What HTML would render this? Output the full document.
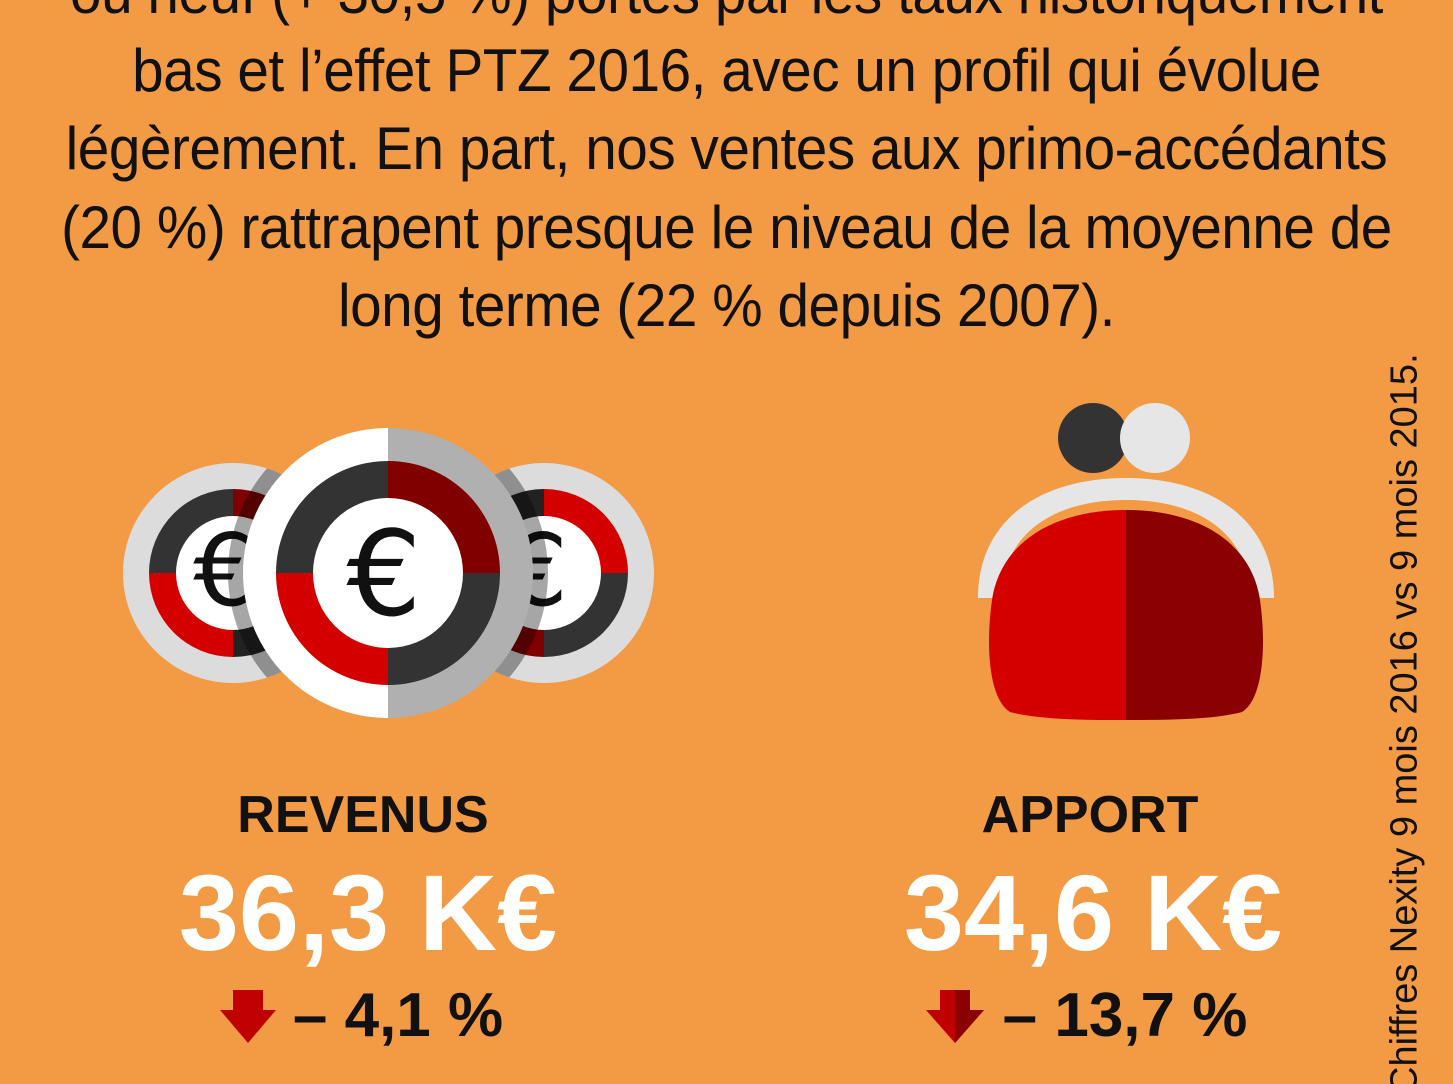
<!DOCTYPE html>
<html><head><meta charset="utf-8"><style>
html,body{margin:0;padding:0;overflow:hidden;width:1453px;height:1084px}
body{background:#f39a44;position:relative;font-family:"Liberation Sans",sans-serif}
.t{position:absolute;left:0;width:1453px;text-align:center;font-size:60px;color:#111;white-space:nowrap;letter-spacing:-0.5px;transform:scaleX(0.945);transform-origin:726px 0}
.lab{position:absolute;width:600px;text-align:center;font-family:"Liberation Sans",sans-serif;font-weight:bold;white-space:nowrap}
.vtw{position:absolute;left:0;top:0;width:1453px;height:1084px;overflow:hidden}
.vt{position:absolute;top:1094px;transform-origin:0 0;transform:rotate(-90deg) translateY(-50%);font-size:38px;color:#111;white-space:nowrap}
</style></head><body>
<div class="t" style="top:-42px">ou neuf (+ 30,5 %) portés par les taux historiquement</div>
<div class="t" style="top:36px">bas et l’effet PTZ 2016, avec un profil qui évolue</div>
<div class="t" style="top:114px">légèrement. En part, nos ventes aux primo-accédants</div>
<div class="t" style="top:193px">(20 %) rattrapent presque le niveau de la moyenne de</div>
<div class="t" style="top:271px">long terme (22 % depuis 2007).</div>
<div class="vtw"><div class="vt" style="left:1405px">Chiffres Nexity 9 mois 2016 vs 9 mois 2015.</div></div>

<svg width="1453" height="1084" style="position:absolute;left:0;top:0">
 <defs><clipPath id="sc"><circle cx="233" cy="573" r="110"/><circle cx="544" cy="573" r="110"/></clipPath></defs>
 <g transform="translate(233,573)">
  <circle r="110" fill="#dcdcdc"/>
  <path d="M0,0 L0,-84 A84,84 0 0,0 -84,0Z" fill="#333"/>
  <path d="M0,0 L-84,0 A84,84 0 0,0 0,84Z" fill="#d40000"/>
  <path d="M0,0 L0,84 A84,84 0 0,0 84,0Z" fill="#222"/>
  <path d="M0,0 L84,0 A84,84 0 0,0 0,-84Z" fill="#800000"/>
  <circle r="57" fill="#fff"/>
  <text x="-8" y="32" font-size="100" font-family="DejaVu Sans" text-anchor="middle" fill="#111">€</text>
 </g>
 <g transform="translate(544,573)">
  <circle r="110" fill="#dcdcdc"/>
  <path d="M0,0 L0,-84 A84,84 0 0,0 -84,0Z" fill="#222"/>
  <path d="M0,0 L-84,0 A84,84 0 0,0 0,84Z" fill="#800000"/>
  <path d="M0,0 L0,84 A84,84 0 0,0 84,0Z" fill="#333"/>
  <path d="M0,0 L84,0 A84,84 0 0,0 0,-84Z" fill="#d40000"/>
  <circle r="57" fill="#fff"/>
  <text x="-8" y="32" font-size="100" font-family="DejaVu Sans" text-anchor="middle" fill="#111">€</text>
 </g>
 <circle cx="388" cy="573" r="160" fill="#000" opacity="0.35" clip-path="url(#sc)"/>
 <g transform="translate(388,573)">
  <path d="M0,-145 A145,145 0 0,0 0,145Z" fill="#fff"/>
  <path d="M0,-145 A145,145 0 0,1 0,145Z" fill="#b0b0b0"/>
  <path d="M0,0 L0,-112 A112,112 0 0,0 -112,0Z" fill="#333"/>
  <path d="M0,0 L-112,0 A112,112 0 0,0 0,112Z" fill="#d40000"/>
  <path d="M0,0 L0,112 A112,112 0 0,0 112,0Z" fill="#333"/>
  <path d="M0,0 L112,0 A112,112 0 0,0 0,-112Z" fill="#800000"/>
  <circle r="75" fill="#fff"/>
  <text x="-4" y="42" font-size="118" font-family="DejaVu Sans" text-anchor="middle" fill="#111">€</text>
 </g>
 <circle cx="1093" cy="438" r="35" fill="#333"/>
 <circle cx="1155" cy="438" r="35" fill="#e6e6e6"/>
 <path d="M978,598 C978,520 1040,478 1126,478 C1212,478 1274,520 1274,598 L1250,598 C1250,535 1200,500 1126,500 C1052,500 1002,535 1002,598Z" fill="#e6e6e6"/>
 <path d="M1126,510 C1050,510 1000,545 992,600 C985,650 990,700 1010,712 C1040,720 1090,720 1126,720Z" fill="#d40000"/>
 <path d="M1126,510 C1202,510 1252,545 1260,600 C1267,650 1262,700 1242,712 C1212,720 1162,720 1126,720Z" fill="#8b0000"/>
 <g fill="#c00000"><rect x="233" y="990" width="30" height="22"/><polygon points="220,1010 276,1010 248,1043"/></g>
 <g><rect x="940" y="990" width="30" height="22" fill="#c00000"/><polygon points="926,1010 984,1010 955,1043" fill="#c00000"/><polygon points="955,990 970,990 970,1010 984,1010 955,1043" fill="#8b0000"/></g>
</svg>

<div class="lab" style="left:63px;top:785px;font-size:52px;color:#111">REVENUS</div>
<div class="lab" style="left:68px;top:850px;font-size:108px;color:#fff">36,3 K€</div>
<div class="lab" style="left:98px;top:980px;font-size:62px;color:#111">– 4,1 %</div>
<div class="lab" style="left:790px;top:785px;font-size:52px;color:#111">APPORT</div>
<div class="lab" style="left:793px;top:850px;font-size:108px;color:#fff">34,6 K€</div>
<div class="lab" style="left:825px;top:980px;font-size:62px;color:#111">– 13,7 %</div>
</body></html>
